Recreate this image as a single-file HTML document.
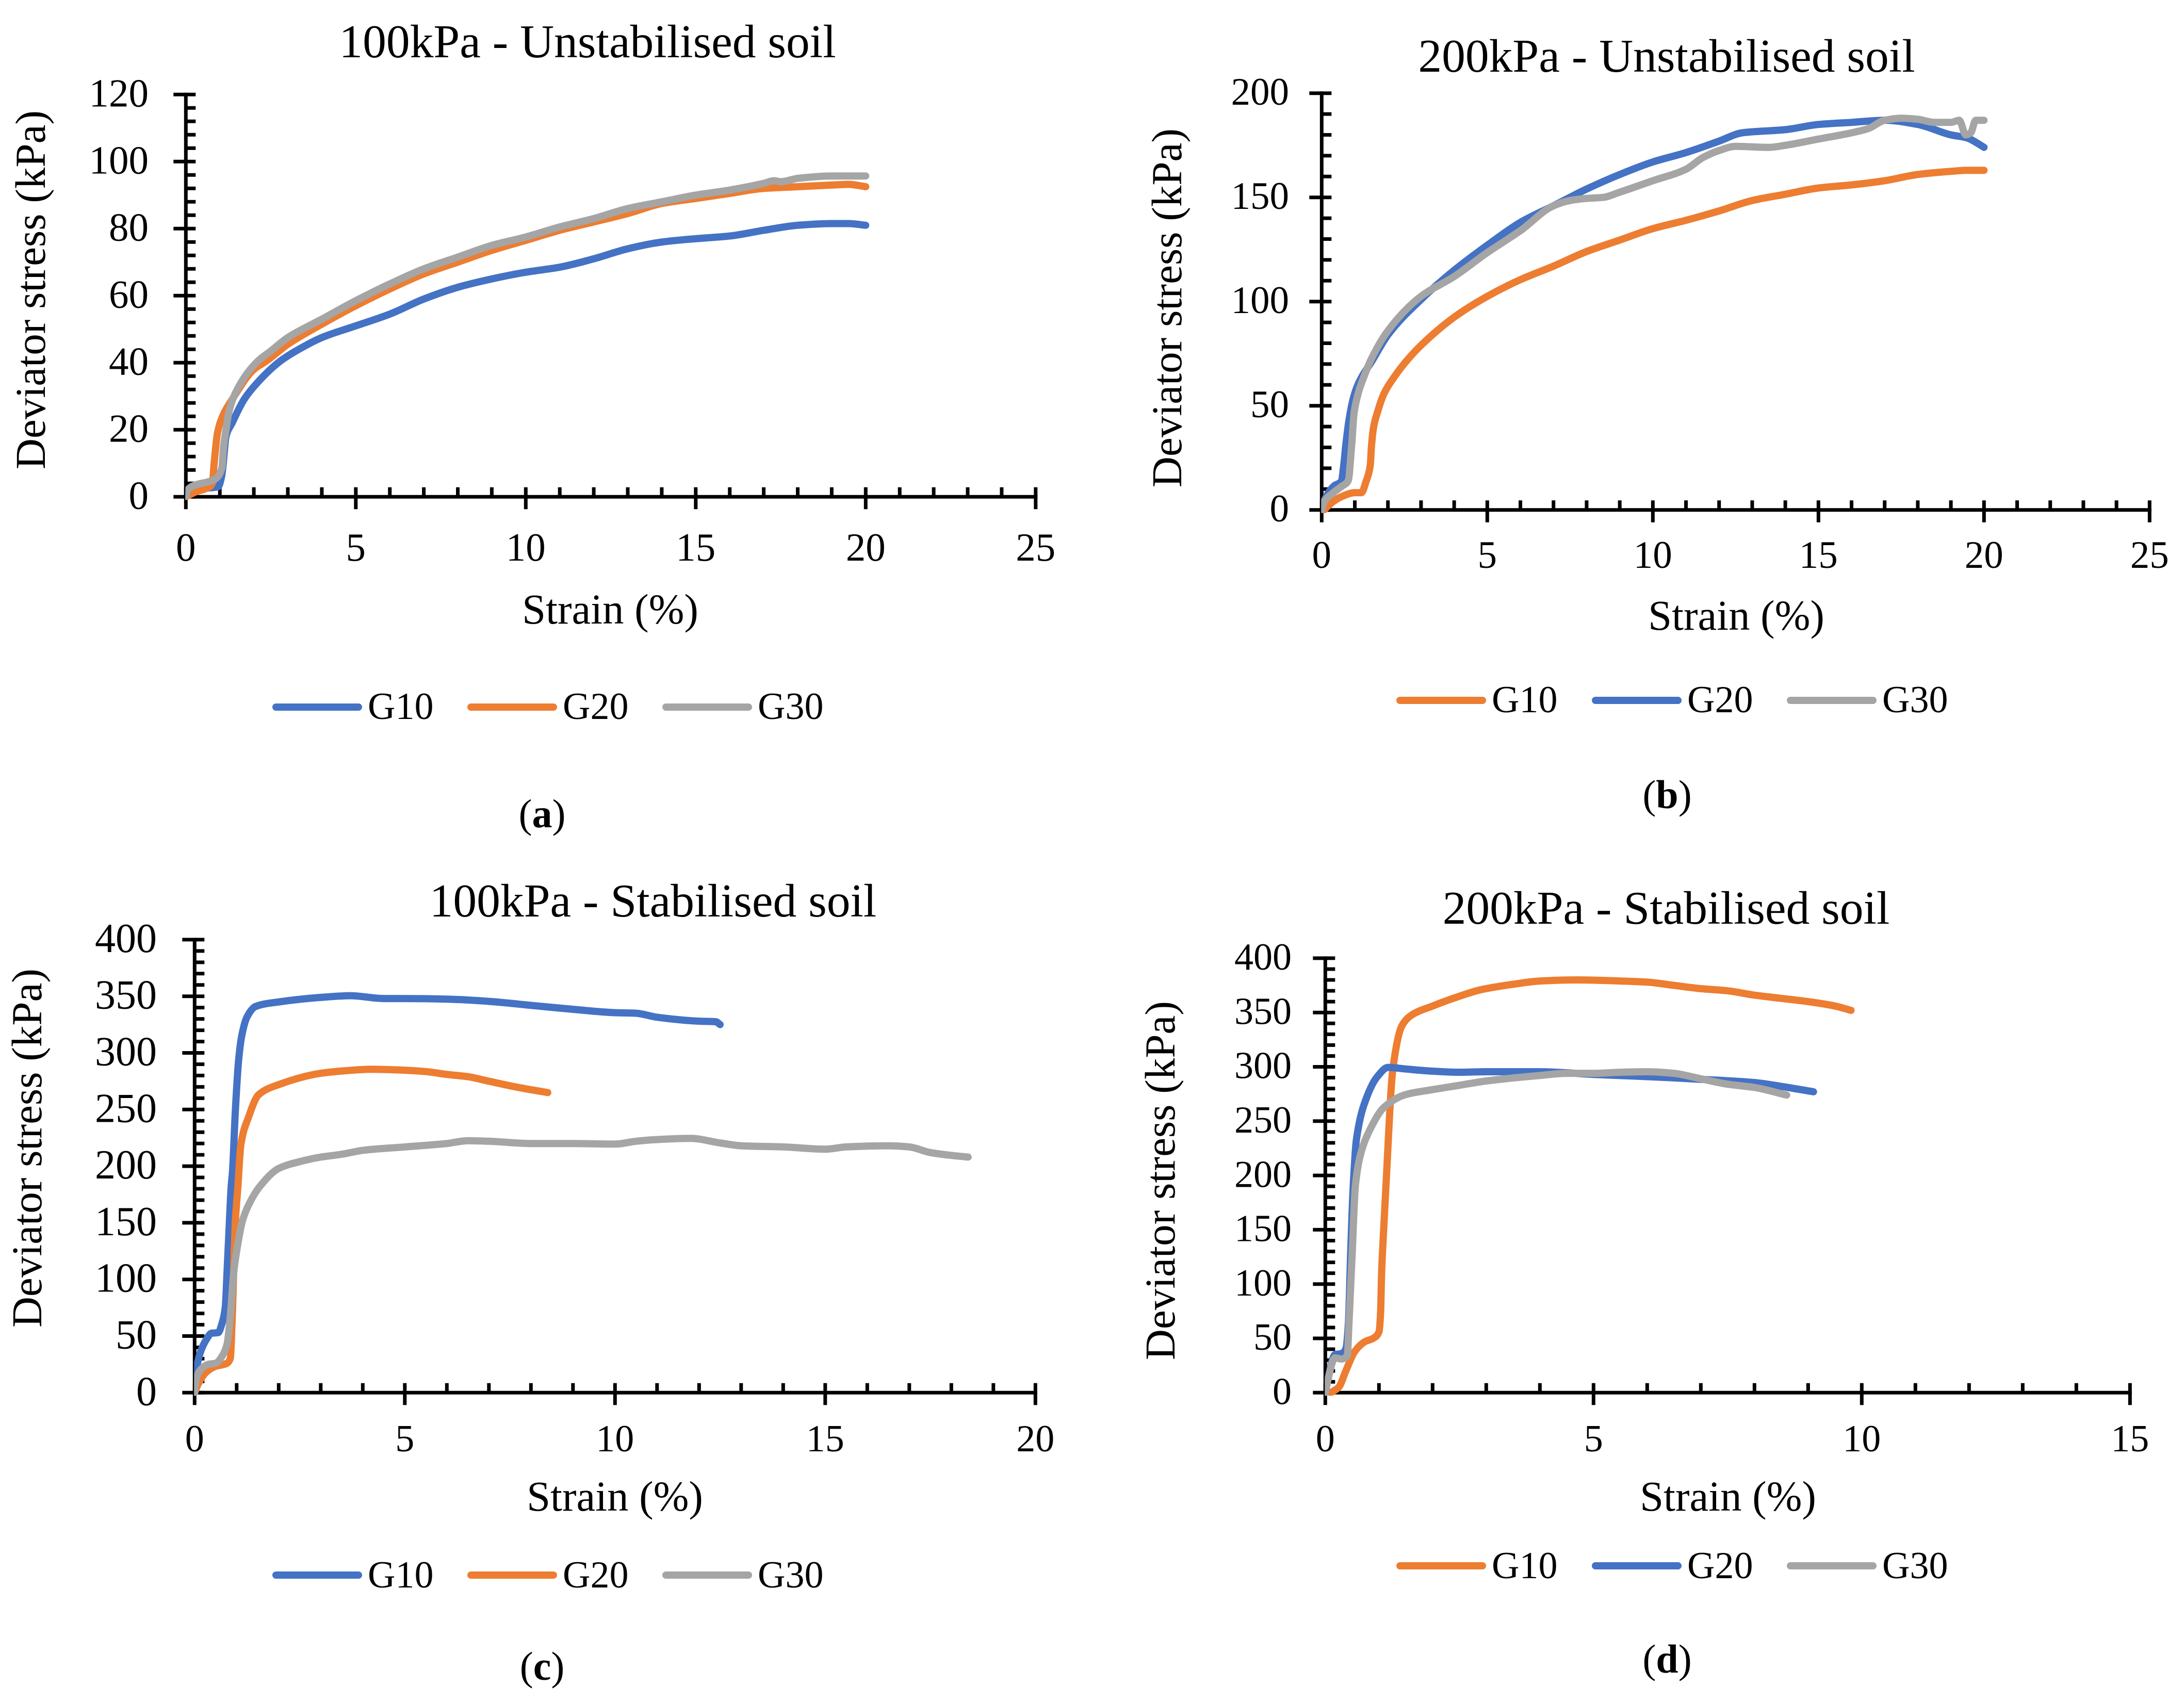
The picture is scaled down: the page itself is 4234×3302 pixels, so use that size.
<!DOCTYPE html>
<html lang="en">
<head>
<meta charset="utf-8">
<title>Deviator stress vs strain</title>
<style>
html,body{margin:0;padding:0;background:#fff;}
svg{display:block;font-family:"Liberation Serif",serif;fill:#000;}
</style>
</head>
<body>
<svg id="figure" xmlns="http://www.w3.org/2000/svg" width="4234" height="3302" viewBox="0 0 4234 3302">
<rect width="4234" height="3302" fill="#fff"/>
</svg>
<script>
// ---- Panel (a) 100kPa unstabilised: [strain, stress] ----
const aG10 = [[0,0],[0.2,1.5],[0.5,2.5],[0.95,3],[1.05,6],[1.1,10],[1.18,18],[1.36,22],[1.71,29],[2.1,34],[2.78,40.5],[3.5,45],[4,47.5],[5,51],[6,54.5],[7,59],[8,62.5],[9,65],[10,67],[11,68.5],[12,71],[13,74],[14,76],[15,77],[16,77.8],[17,79.5],[18,81],[19,81.5],[19.5,81.5],[20,81]];
const aG20 = [[0,0],[0.3,1.5],[0.6,2.5],[0.78,4],[0.83,9.7],[0.93,19],[1.08,24],[1.36,29],[2,38],[2.37,40.5],[3,45.5],[4,51.5],[5,57],[6,62],[7,66.5],[8,70],[9,73.5],[10,76.5],[11,79.5],[12,82],[13,84.5],[14,87.5],[15,89],[16,90.5],[17,92],[18,92.5],[19,93],[19.5,93.2],[20,92.5]];
const aG30 = [[0,0],[0.05,2],[0.3,3.6],[0.7,4.6],[0.9,5.6],[1.06,8.7],[1.11,15],[1.18,20],[1.26,25],[1.46,31],[2.12,40.5],[2.5,43.5],[3,47.5],[4,53],[5,58.5],[6,63.5],[7,68],[8,71.5],[9,75],[10,77.5],[11,80.5],[12,83],[13,86],[14,88],[15,90],[16,91.5],[17,93.5],[17.3,94.3],[17.5,94],[18,95],[19,95.7],[20,95.7]];
const aXTicks = [0,5,10,15,20,25];
const aYTicks = [0,20,40,60,80,100,120];

// ---- Panel (b) 200kPa unstabilised ----
const bG10 = [[0.07,0],[0.33,3.8],[0.59,6.3],[1,8.3],[1.2,8.3],[1.34,13.7],[1.47,22],[1.5,30],[1.57,40],[1.68,46.7],[1.88,55.8],[2.2,64],[2.56,71.5],[3,79],[4,92.5],[5,102.5],[6,110.5],[7,117],[8,124],[9,129.5],[10,135],[11,139],[12,143.5],[13,148.5],[14,151.5],[15,154.5],[16,156],[17,158],[18,161],[19,162.5],[19.5,163],[20,163]];
const bG20 = [[0,2],[0.22,8.7],[0.38,11.6],[0.59,13.7],[0.67,22],[0.72,30],[0.82,42.6],[0.95,53.3],[1.11,60.7],[1.52,71.5],[2,84],[3,101],[4,115],[5,127],[6,138],[7,146],[8,154],[9,161],[10,167],[11,171.5],[12,177],[12.7,181],[14,182.5],[15,185],[16,186],[17,187],[18,185],[19,180],[19.5,178.5],[19.8,176],[20,174]];
const bG30 = [[0,0],[0.07,3.8],[0.33,8],[0.59,11.2],[0.8,14],[0.9,30],[0.98,46.7],[1.1,55.8],[1.32,65.7],[1.47,71.5],[2,86],[3,102.5],[4,112],[5,123.5],[6,134],[7,146],[7.5,148.5],[8,149.5],[8.5,150],[9,152.5],[10,158],[11,163.5],[11.5,169],[12,172.5],[12.5,174.5],[13.5,174],[14,175],[15,178],[16,181],[16.5,183],[17,187],[17.5,188],[18,187.5],[18.5,186],[19,186],[19.25,187],[19.45,180],[19.6,181],[19.75,187],[20,187]];
const bXTicks = [0,5,10,15,20,25];
const bYTicks = [0,50,100,150,200];

// ---- Panel (c) 100kPa stabilised ----
const cG10 = [[0,0],[0.02,9],[0.07,26],[0.16,38],[0.28,47],[0.4,52.5],[0.56,53],[0.65,61],[0.73,76],[0.77,106],[0.81,137],[0.87,182],[0.9,195],[0.97,250],[1.05,295],[1.12,315],[1.25,332],[1.45,341],[2,345],[3,349],[3.7,350.5],[4.5,348],[5,348],[6,347.5],[7,345.5],[8,342],[9,338.5],[10,335.5],[10.5,335],[11,331.5],[12,328],[12.4,327.5],[12.5,325]];
const cG20 = [[0,0],[0.09,8],[0.26,17.6],[0.48,23],[0.77,26],[0.85,30.5],[0.89,61],[0.97,152],[1.03,182],[1.1,219],[1.28,243],[1.52,263],[2,272],[3,282],[3.5,284],[4.2,285.5],[4.8,285],[5.5,283.5],[6,281],[6.5,279],[7,275],[7.5,271],[8,267.5],[8.4,265]];
const cG30 = [[0,0],[0.03,11],[0.16,21],[0.32,25],[0.5,26],[0.65,32],[0.77,42.6],[0.85,68],[0.93,106],[1,125],[1.14,152],[1.3,167],[1.55,182],[2,198],[2.5,204],[3,208],[3.5,210.5],[4,214],[5,217],[6,220],[6.5,222.5],[7,222],[8,220],[9,220],[10,219.5],[10.5,222],[11,223.5],[11.8,224.5],[12.5,220.5],[13,218],[14,217],[15,215],[15.5,217],[16.5,218],[17,217],[17.5,212],[18,209.5],[18.4,208]];
const cXTicks = [0,5,10,15,20];
const cYTicks = [0,50,100,150,200,250,300,350,400];

// ---- Panel (d) 200kPa stabilised ----
const dG10 = [[0.1,0],[0.25,5],[0.39,21],[0.55,38],[0.74,47],[0.89,50],[1,56],[1.03,73],[1.05,111],[1.08,142.5],[1.13,190],[1.26,298],[1.43,338],[1.62,348],[2,356],[2.5,365],[2.9,371],[3.5,376],[4,379],[4.7,380],[5.5,379],[6,378],[6.5,375],[7,372],[7.5,370],[8,366],[8.5,363],[9,360],[9.5,356],[9.8,352]];
const dG20 = [[0,0],[0.04,10],[0.18,35],[0.3,36],[0.38,40],[0.43,63],[0.47,125],[0.52,190],[0.58,233],[0.78,273],[0.97,291],[1.17,299.5],[1.5,298],[2,296],[2.5,295],[3,295.5],[4,295.5],[5,293],[6,291],[7,288.5],[8,285.5],[8.5,282],[9.1,277]];
const dG30 = [[0,0],[0.04,10],[0.18,32],[0.3,31],[0.41,34],[0.44,63],[0.5,127],[0.56,190],[0.65,218],[0.84,243],[1.1,263],[1.5,274.5],[2,279],[2.5,283],[3,287],[4,292],[4.5,294],[5,294],[5.5,295],[6,295.5],[6.5,294],[7,289],[7.5,284],[8,281],[8.6,274]];
const dXTicks = [0,5,10,15];
const dYTicks = [0,50,100,150,200,250,300,350,400];

const BLUE = '#4472C4', ORANGE = '#ED7D31', GRAY = '#A5A5A5';
const LINE_W = 14, AXIS_W = 7;

const panels = [
 {id:'a', letter:'a', title:'100kPa - Unstabilised soil', titleX:1139, titleY:111, titleSize:91.5,
  x0:360.3, y0:963.3, xUnit:65.9, yUnit:6.5, xMax:25, yMax:120, yMinor:4,
  xTicks:aXTicks, yTicks:aYTicks, yFont:77, xFont:77, yLabelRight:288, xLabelBase:1087,
  xTitleX:1183, xTitleY:1209, yTitleX:87, yTitleY:562,
  series:[['G10',aG10,BLUE],['G20',aG20,ORANGE],['G30',aG30,GRAY]],
  legendY:1371, legendBase:1394, legendLines:[533,911,1289], capX:1051, capY:1604},
 {id:'b', letter:'b', title:'200kPa - Unstabilised soil', titleX:3231, titleY:139, titleSize:91.5,
  x0:2562.3, y0:988.7, xUnit:64.2, yUnit:4.04, xMax:25, yMax:200, yMinor:10,
  xTicks:bXTicks, yTicks:bYTicks, yFont:75, xFont:75, yLabelRight:2499, xLabelBase:1101,
  xTitleX:3366, xTitleY:1221, yTitleX:2290, yTitleY:597,
  series:[['G10',bG10,ORANGE],['G20',bG20,BLUE],['G30',bG30,GRAY]],
  legendY:1358, legendBase:1381, legendLines:[2712,3091,3469], capX:3232, capY:1567},
 {id:'c', letter:'c', title:'100kPa - Stabilised soil', titleX:1266, titleY:1777, titleSize:91.5,
  x0:377.3, y0:2700.3, xUnit:81.5, yUnit:2.196, xMax:20, yMax:400, yMinor:10,
  xTicks:cXTicks, yTicks:cYTicks, yFont:80, xFont:74, yLabelRight:304, xLabelBase:2814,
  xTitleX:1192, xTitleY:2929, yTitleX:80, yTitleY:2226,
  series:[['G10',cG10,BLUE],['G20',cG20,ORANGE],['G30',cG30,GRAY]],
  legendY:3054, legendBase:3078, legendLines:[533,911,1289], capX:1051, capY:3257},
 {id:'d', letter:'d', title:'200kPa - Stabilised soil', titleX:3230, titleY:1791, titleSize:91.5,
  x0:2569.3, y0:2700.3, xUnit:104, yUnit:2.106, xMax:15, yMax:400, yMinor:10,
  xTicks:dXTicks, yTicks:dYTicks, yFont:74, xFont:74, yLabelRight:2504, xLabelBase:2814,
  xTitleX:3350, xTitleY:2929, yTitleX:2277, yTitleY:2289,
  series:[['G10',dG10,ORANGE],['G20',dG20,BLUE],['G30',dG30,GRAY]],
  legendY:3036, legendBase:3060, legendLines:[2712,3091,3469], capX:3232, capY:3243}
];

const NS = 'http://www.w3.org/2000/svg';
const svg = document.getElementById('figure');

function make(tag, parent, attrs, text) {
  const el = document.createElementNS(NS, tag);
  for (const k in attrs) el.setAttribute(k, attrs[k]);
  if (text !== undefined) el.textContent = text;
  parent.appendChild(el);
  return el;
}

function seg(parent, x1, y1, x2, y2, w) {
  return make('line', parent, {x1, y1, x2, y2, stroke:'#000', 'stroke-width':w});
}

// Monotone cubic path so the curves look smoothed without overshooting.
function smoothPath(pts) {
  const n = pts.length;
  const dx = [], slope = [], m = [];
  for (let i = 0; i < n - 1; i++) {
    dx[i] = pts[i + 1][0] - pts[i][0];
    slope[i] = (pts[i + 1][1] - pts[i][1]) / dx[i];
  }
  m[0] = slope[0];
  m[n - 1] = slope[n - 2];
  for (let i = 1; i < n - 1; i++) {
    if (slope[i - 1] * slope[i] <= 0) { m[i] = 0; continue; }
    const w1 = 2 * dx[i] + dx[i - 1], w2 = dx[i] + 2 * dx[i - 1];
    m[i] = (w1 + w2) / (w1 / slope[i - 1] + w2 / slope[i]);
  }
  let d = 'M' + pts[0][0].toFixed(1) + ' ' + pts[0][1].toFixed(1);
  for (let i = 0; i < n - 1; i++) {
    const h = dx[i] / 3;
    d += 'C' + (pts[i][0] + h).toFixed(1) + ' ' + (pts[i][1] + m[i] * h).toFixed(1) + ' ' +
         (pts[i + 1][0] - h).toFixed(1) + ' ' + (pts[i + 1][1] - m[i + 1] * h).toFixed(1) + ' ' +
         pts[i + 1][0].toFixed(1) + ' ' + pts[i + 1][1].toFixed(1);
  }
  return d;
}

function drawPanel(p) {
  const sx = v => p.x0 + v * p.xUnit;
  const sy = v => p.y0 - v * p.yUnit;

  const g = make('g', svg, {});
  
  

  const title = make('text', g, {x:p.titleX, y:p.titleY, 'text-anchor':'middle', 'font-size':p.titleSize}, p.title);
  
  

  // axes
  const xAxis = seg(g, sx(0) - 3.5, p.y0, sx(p.xMax) + 3.5, p.y0, AXIS_W);
  
  
  const yAxis = seg(g, p.x0, sy(p.yMax) - 3.5, p.x0, p.y0 + 3.5, AXIS_W);
  
  

  // x ticks
  for (let v = 0; v <= p.xMax; v += 1) {
    const major = p.xTicks.includes(v);
    const t = seg(g, sx(v), p.y0 - 18.5, sx(v), p.y0 + (major ? 24 : 0), AXIS_W);
    
    
  }
  for (const v of p.xTicks) {
    const l = make('text', g, {x:sx(v), y:p.xLabelBase, 'text-anchor':'middle', 'font-size':p.xFont}, String(v));
    
    
  }

  // y ticks
  for (let v = 0; v <= p.yMax; v += p.yMinor) {
    const major = p.yTicks.includes(v);
    const t = seg(g, p.x0 - (major ? 24 : 0), sy(v), p.x0 + 19, sy(v), AXIS_W);
    
    
  }
  for (const v of p.yTicks) {
    const l = make('text', g, {x:p.yLabelRight, y:sy(v) + p.yFont * 0.3, 'text-anchor':'end', 'font-size':p.yFont}, String(v));
    
    
  }

  // axis titles
  const xt = make('text', g, {x:p.xTitleX, y:p.xTitleY, 'text-anchor':'middle', 'font-size':82.6}, 'Strain (%)');
  
  
  const yt = make('text', g, {x:p.yTitleX, y:p.yTitleY, 'text-anchor':'middle', 'font-size':83,
    transform:'rotate(-90 ' + p.yTitleX + ' ' + p.yTitleY + ')'}, 'Deviator stress (kPa)');
  
  

  // clipped series
  const clip = make('clipPath', g, {id:'clip-' + p.id});
  make('rect', clip, {x:p.x0 - 1, y:sy(p.yMax) - 30, width:sx(p.xMax) - p.x0 + 30, height:p.y0 + 6 - sy(p.yMax) + 30});
  p.series.forEach(function (s) {
    const pts = s[1].map(d => [sx(d[0]), sy(d[1])]);
    const line = make('path', g, {d:smoothPath(pts), fill:'none', stroke:s[2], 'stroke-width':LINE_W,
      'stroke-linecap':'round', 'stroke-linejoin':'round', 'clip-path':'url(#clip-' + p.id + ')'});
    
    
  });

  // legend
  p.series.forEach(function (s, i) {
    const lx = p.legendLines[i];
    const entry = make('g', g, {});
    
    
    make('line', entry, {x1:lx + 2, y1:p.legendY, x2:lx + 162, y2:p.legendY, stroke:s[2],
      'stroke-width':LINE_W, 'stroke-linecap':'round'});
    make('text', entry, {x:lx + 180, y:p.legendBase, 'font-size':74}, s[0]);
  });

  // caption
  const cap = make('text', g, {x:p.capX, y:p.capY, 'text-anchor':'middle', 'font-size':78});
  
  
  make('tspan', cap, {}, '(');
  make('tspan', cap, {'font-weight':'bold'}, p.letter);
  make('tspan', cap, {}, ')');
}

panels.forEach(drawPanel);
</script>
</body>
</html>
